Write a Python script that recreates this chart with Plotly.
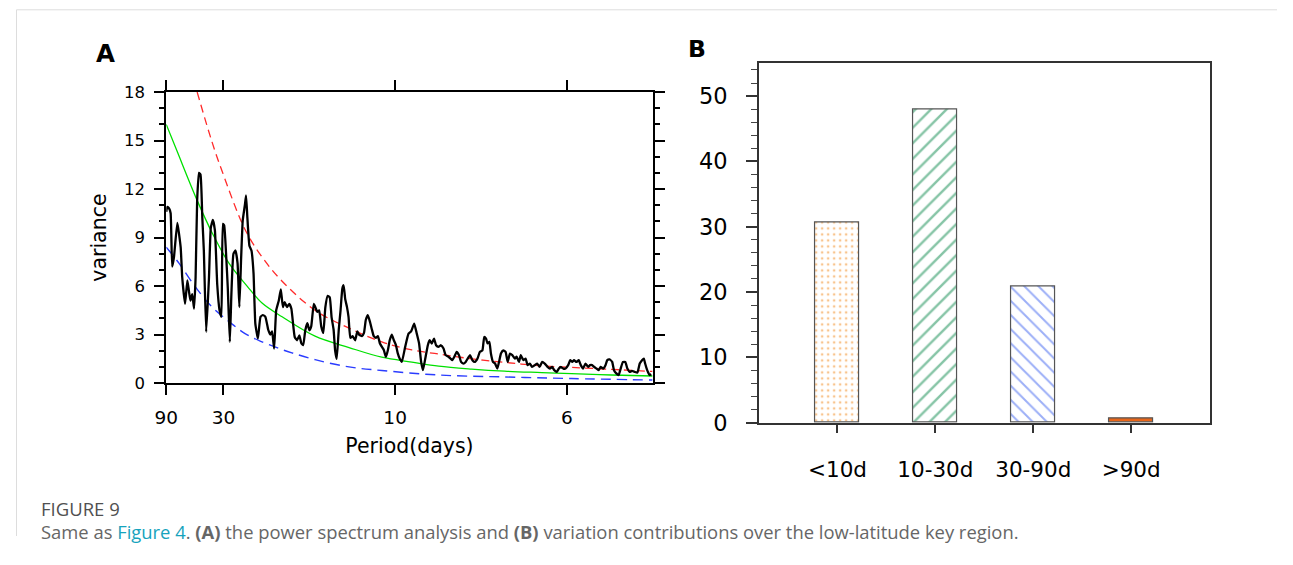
import plotly.graph_objects as go

# ---------------- Panel A data (frequency in cycles/day, variance) ----------------
spec_freq = [
    0.0111, 0.0115, 0.0122, 0.0128, 0.0134, 0.0141, 0.0154, 0.0167, 0.0173, 0.0184,
    0.0193, 0.0199, 0.0205, 0.0212, 0.0219, 0.0225, 0.0231, 0.0238, 0.0244, 0.0251,
    0.0257, 0.0266, 0.0277, 0.0284, 0.0292, 0.0300, 0.0309, 0.0318, 0.0325, 0.0331,
    0.0336, 0.0344, 0.0350, 0.0358, 0.0364, 0.0372, 0.0380, 0.0388, 0.0395, 0.0402,
    0.0408, 0.0416, 0.0421, 0.0426, 0.0434, 0.0442, 0.0450, 0.0457, 0.0467, 0.0477,
    0.0486, 0.0496, 0.0507, 0.0515, 0.0522, 0.0530, 0.0538, 0.0548, 0.0556, 0.0564,
    0.0571, 0.0580, 0.0589, 0.0597, 0.0610, 0.0619, 0.0628, 0.0636, 0.0643, 0.0651,
    0.0659, 0.0667, 0.0674, 0.0684, 0.0690, 0.0698, 0.0705, 0.0713, 0.0721, 0.0729,
    0.0738, 0.0746, 0.0753, 0.0761, 0.0767, 0.0773, 0.0781, 0.0788, 0.0795, 0.0800,
    0.0806, 0.0813, 0.0819, 0.0826, 0.0835, 0.0845, 0.0853, 0.0860, 0.0871, 0.0879,
    0.0886, 0.0894, 0.0902, 0.0910, 0.0917, 0.0925, 0.0933, 0.0941, 0.0948, 0.0956,
    0.0964, 0.0972, 0.0979, 0.0987, 0.0995, 0.1003, 0.1010, 0.1018, 0.1026, 0.1039,
    0.1052, 0.1062, 0.1074, 0.1084, 0.1093, 0.1101, 0.1108, 0.1116, 0.1127, 0.1134,
    0.1142, 0.1151, 0.1159, 0.1168, 0.1178, 0.1188, 0.1196, 0.1207, 0.1215, 0.1222,
    0.1230, 0.1239, 0.1248, 0.1256, 0.1265, 0.1274, 0.1282, 0.1291, 0.1300, 0.1310,
    0.1320, 0.1329, 0.1339, 0.1346, 0.1353, 0.1359, 0.1366, 0.1372, 0.1380, 0.1388,
    0.1397, 0.1405, 0.1411, 0.1420, 0.1429, 0.1437, 0.1446, 0.1455, 0.1465, 0.1472,
    0.1481, 0.1488, 0.1498, 0.1507, 0.1514, 0.1523, 0.1532, 0.1543, 0.1552, 0.1561,
    0.1571, 0.1581, 0.1592, 0.1601, 0.1610, 0.1618, 0.1628, 0.1636, 0.1643, 0.1653,
    0.1662, 0.1672, 0.1680, 0.1688, 0.1695, 0.1704, 0.1713, 0.1721, 0.1730, 0.1739,
    0.1750, 0.1757, 0.1765, 0.1773, 0.1782, 0.1791, 0.1798, 0.1808, 0.1817, 0.1824,
    0.1833, 0.1843, 0.1850, 0.1859, 0.1868, 0.1876, 0.1885, 0.1894, 0.1902, 0.1911,
    0.1920, 0.1930, 0.1941, 0.1950, 0.1959, 0.1966, 0.1971, 0.1979, 0.1988, 0.1995,
]
spec_var = [
    10.6, 10.9, 10.8, 10.5, 7.2, 7.8, 9.9, 8.4, 6.55, 4.9,
    6.35, 5.7, 5.1, 5.5, 4.6, 6.55, 11.3, 13.0, 12.9, 10.25,
    8.2, 3.16, 6.55, 9.6, 10.1, 9.45, 6.1, 4.5, 4.1, 9.85,
    9.75, 7.8, 5.9, 2.55, 5.5, 8.0, 8.2, 7.4, 4.7, 7.8,
    10.05, 10.97, 11.6, 10.25, 8.5, 8.2, 6.8, 3.68, 2.75, 4.1,
    4.2, 4.1, 3.3, 3.0, 3.2, 2.14, 4.5, 5.1, 5.8, 4.7,
    5.0, 4.7, 4.9, 4.6, 2.85, 2.65, 2.95, 2.45, 2.35, 3.27,
    3.7, 3.27, 3.5, 4.9, 4.7, 4.4, 4.5, 3.5, 3.1, 4.7,
    5.4, 5.3, 4.1, 3.3, 2.0, 1.5, 3.3, 4.5, 5.85, 6.05,
    5.2, 4.7, 4.1, 2.8, 2.9, 2.65, 3.2, 3.0, 2.9, 3.1,
    3.9, 4.2, 3.8, 3.3, 2.9, 2.8, 2.9, 2.45, 2.25, 2.05,
    1.62, 2.05, 2.65, 3.0, 2.65, 2.35, 1.85, 1.5, 1.31, 2.24,
    3.06, 3.2, 3.68, 3.06, 2.45, 1.31, 0.8, 1.42, 2.34, 2.65,
    2.45, 2.75, 2.34, 2.24, 2.34, 2.14, 1.73, 1.63, 1.52, 1.42,
    1.63, 1.93, 1.73, 1.31, 1.21, 1.31, 1.52, 1.73, 1.42, 1.31,
    1.52, 1.93, 2.03, 2.85, 2.75, 2.45, 2.55, 1.83, 1.31, 1.21,
    0.9, 1.42, 1.83, 2.03, 1.93, 1.31, 1.83, 1.73, 1.52, 1.63,
    1.31, 1.73, 1.42, 1.52, 1.11, 1.21, 1.0, 1.11, 1.21, 1.0,
    1.31, 1.21, 1.0, 0.9, 1.0, 0.8, 0.7, 0.9, 1.0, 0.9,
    0.9, 1.11, 1.42, 1.31, 1.42, 1.31, 1.42, 1.11, 0.9, 1.21,
    1.0, 1.11, 1.11, 1.0, 0.9, 0.8, 1.0, 0.9, 1.11, 1.42,
    1.46, 1.31, 0.8, 0.6, 0.5, 0.9, 1.31, 1.31, 0.9, 0.7,
    0.75, 0.7, 0.65, 1.21, 1.42, 1.52, 1.21, 0.8, 0.5, 0.55,
]

# red-noise spectrum (green) and confidence bounds (red upper, blue lower)
green_freq = [0.0111, 0.0154, 0.0231, 0.0289, 0.0355, 0.0425, 0.0483, 0.0561, 0.0689,
              0.0821, 0.0948, 0.1065, 0.1169, 0.1297, 0.1425, 0.1569, 0.1685, 0.1840, 0.2000]
green_var = [16.0, 14.3, 11.3, 9.3, 7.4, 6.0, 4.95, 4.1, 2.9,
             2.2, 1.6, 1.3, 1.05, 0.87, 0.74, 0.65, 0.58, 0.5, 0.44]

red_freq = [0.0231, 0.0289, 0.0328, 0.0417, 0.0483, 0.0561, 0.0689, 0.0821, 0.0948,
            0.1065, 0.1169, 0.1297, 0.1425, 0.1569, 0.1685, 0.1840, 0.2000]
red_var = [18.0, 14.9, 13.1, 9.5, 7.8, 6.3, 4.5, 3.4, 2.55,
           2.05, 1.8, 1.5, 1.28, 1.07, 0.97, 0.85, 0.72]

blue_freq = [0.0111, 0.0161, 0.0224, 0.0289, 0.0355, 0.0417, 0.0483, 0.0549, 0.0599,
             0.0689, 0.0821, 0.0948, 0.1169, 0.1425, 0.1685, 0.2000]
blue_var = [8.4, 7.4, 5.95, 4.7, 3.8, 3.06, 2.55, 2.14, 1.87,
            1.45, 1.0, 0.78, 0.5, 0.38, 0.28, 0.19]

period_ticks = [90, 30, 10, 6]
period_labels = ["90", "30", "10", "6"]

# ---------------- Panel B data ----------------
bands = ["<10d", "10-30d", "30-90d", ">90d"]
band_pos = [1, 2, 3, 4]
contrib = [30.6, 47.9, 20.9, 0.6]

# ---------------- geometry ----------------
# figure fits inside the page's default 8px body margin; px/py convert target
# screen positions (as photographed) into paper fractions
W, H = 1277, 549
AX, SX = 9.5, 0.992
AY, SY = 7.7, 0.963


def px(X):
    return ((X - AX) / SX) / W


def py(Y):
    return 1 - ((Y - AY) / SY) / H


FONT = "DejaVu Sans"
fig = go.Figure()

fig.add_trace(go.Scatter(x=red_freq, y=red_var, mode="lines",
                         line=dict(color="#ff2a2a", width=1.3, dash="8px,5px", shape="spline"),
                         xaxis="x", yaxis="y", showlegend=False))
fig.add_trace(go.Scatter(x=green_freq, y=green_var, mode="lines",
                         line=dict(color="#00e000", width=1.3, shape="spline"),
                         xaxis="x", yaxis="y", showlegend=False))
fig.add_trace(go.Scatter(x=blue_freq, y=blue_var, mode="lines",
                         line=dict(color="#2a3cff", width=1.4, dash="10px,6px", shape="spline"),
                         xaxis="x", yaxis="y", showlegend=False))
fig.add_trace(go.Scatter(x=spec_freq, y=spec_var, mode="lines",
                         line=dict(color="black", width=2.3, shape="spline", smoothing=0.4),
                         xaxis="x", yaxis="y", showlegend=False))

patterns = [
    dict(shape=".", fgcolor="#f28a1c", bgcolor="white", size=6, solidity=0.16, fillmode="overlay"),
    dict(shape="/", fgcolor="#0d8a4e", bgcolor="white", size=11, solidity=0.22, fillmode="overlay"),
    dict(shape="\\", fgcolor="#3a5ff0", bgcolor="white", size=10, solidity=0.2, fillmode="overlay"),
    dict(shape="", fgcolor="#e8661a", bgcolor="#e8661a", size=8, solidity=1, fillmode="overlay"),
]
bar_fill = ["white", "white", "white", "#e8661a"]
for i in range(4):
    fig.add_trace(go.Bar(x=[band_pos[i]], y=[contrib[i]], width=0.45,
                         marker=dict(color=bar_fill[i], pattern=patterns[i],
                                     line=dict(color="#555555", width=1.2)),
                         xaxis="x2", yaxis="y2", showlegend=False))

fig.update_layout(
    width=W, height=H, autosize=False,
    margin=dict(l=0, r=0, t=0, b=0, pad=0),
    paper_bgcolor="white", plot_bgcolor="white",
    font=dict(family=FONT, color="black"),
    bargap=0,
    xaxis=dict(
        domain=[px(164), px(651)], range=[1 / 90, 0.2],
        tickvals=[1 / p for p in period_ticks], ticktext=period_labels,
        ticks="outside", ticklen=10, tickwidth=2, tickcolor="black",
        showline=True, linecolor="black", linewidth=2, mirror="ticks",
        showgrid=False, zeroline=False,
        tickfont=dict(size=18.5, family=FONT), ticklabelstandoff=7,
        title=dict(text="Period(days)", font=dict(size=20.5, family=FONT), standoff=11),
        anchor="y",
    ),
    yaxis=dict(
        domain=[py(383), py(91)], range=[0, 18],
        tickvals=[0, 3, 6, 9, 12, 15, 18],
        ticks="outside", ticklen=10, tickwidth=2, tickcolor="black",
        minor=dict(dtick=1, ticks="outside", ticklen=5, tickwidth=1.5, tickcolor="black"),
        showline=True, linecolor="black", linewidth=2, mirror="ticks",
        showgrid=False, zeroline=False,
        tickfont=dict(size=16.5, family=FONT), ticklabelstandoff=6,
        title=dict(text="variance", font=dict(size=20.5, family=FONT), standoff=12),
        anchor="x",
    ),
    xaxis2=dict(
        domain=[px(757.7), px(1208.7)], range=[0.2, 4.8],
        tickvals=band_pos, ticktext=bands,
        ticks="outside", ticklen=8, tickwidth=1.5, tickcolor="#333333",
        showline=True, linecolor="#333333", linewidth=2, mirror=True,
        showgrid=False, zeroline=False,
        tickfont=dict(size=21.5, family=FONT), ticklabelstandoff=19,
        anchor="y2",
    ),
    yaxis2=dict(
        domain=[py(422.7), py(62.3)], range=[0, 55],
        tickvals=[0, 10, 20, 30, 40, 50],
        ticks="outside", ticklen=11, tickwidth=1.5, tickcolor="#333333",
        minor=dict(dtick=2, ticks="outside", ticklen=6, tickwidth=1, tickcolor="#444444"),
        showline=True, linecolor="#333333", linewidth=2, mirror=True,
        showgrid=False, zeroline=False,
        tickfont=dict(size=22.5, family=FONT), ticklabelstandoff=14,
        anchor="x2",
    ),
)

annotations = [
    dict(text="<b>A</b>", x=px(93), y=py(52), xref="paper", yref="paper",
         xanchor="left", yanchor="middle", showarrow=False, borderpad=0,
         font=dict(size=24.5, family=FONT, color="black")),
    dict(text="<b>B</b>", x=px(685), y=py(48), xref="paper", yref="paper",
         xanchor="left", yanchor="middle", showarrow=False, borderpad=0,
         font=dict(size=23.5, family=FONT, color="black")),
    dict(text="FIGURE 9", x=px(38), y=py(509), xref="paper", yref="paper",
         xanchor="left", yanchor="middle", showarrow=False, borderpad=0,
         font=dict(size=18.5, family="Open Sans", color="#505050")),
    dict(text="Same as <span style='color:#17a3bd'>Figure 4</span>. <b>(A)</b> the power spectrum analysis and "
              "<b>(B)</b> variation contributions over the low-latitude key region.",
         x=px(38), y=py(532), xref="paper", yref="paper",
         xanchor="left", yanchor="middle", showarrow=False, borderpad=0,
         font=dict(size=18.4, family="Open Sans", color="#666666")),
]
fig.update_layout(annotations=annotations)

shapes = [
    dict(type="line", xref="paper", yref="paper", x0=px(14), x1=px(14), y0=0, y1=py(8.5),
         line=dict(color="#dddddd", width=1)),
    dict(type="line", xref="paper", yref="paper", x0=px(14), x1=1, y0=py(8.5), y1=py(8.5),
         line=dict(color="#dddddd", width=1)),
]
fig.update_layout(shapes=shapes)

fig.write_html("out.html")
